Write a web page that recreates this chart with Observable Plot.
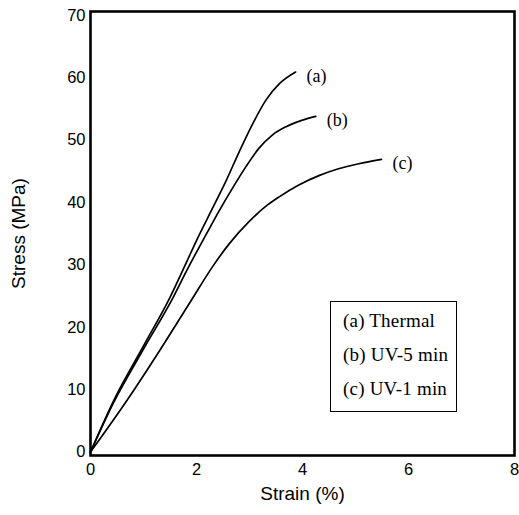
<!DOCTYPE html>
<html>
<head>
<meta charset="utf-8">
<script src="https://cdn.jsdelivr.net/npm/d3@7"></script>
<script src="https://cdn.jsdelivr.net/npm/@observablehq/plot@0.6"></script>
<style>
  html, body { margin: 0; padding: 0; background: #fff; }
  #wrap { position: relative; width: 519px; height: 515px; }
  svg [aria-label="x-axis label"] text, svg [aria-label="y-axis label"] text { font-size: 19px; }
  #legend {
    position: absolute; left: 330px; top: 301px; width: 125px; height: 109px;
    border: 1.5px solid #000; background: #fff;
    font-family: "Liberation Serif", "Times New Roman", serif; font-size: 19px; color: #000;
  }
  #legend div { position: absolute; left: 12px; white-space: nowrap; line-height: 20px; letter-spacing: 0.2px; }
</style>
</head>
<body>
<div id="wrap"></div>
<script>
// Strain (%) and stress (MPa)
const seriesNames = ["(a)", "(b)", "(c)"];
const legendLabels = ["(a) Thermal", "(b) UV-5 min", "(c) UV-1 min"];

const strainA = [0, 0.44, 1.00, 1.50, 1.81, 2.00, 2.31, 2.56, 2.81, 3.06, 3.31, 3.56, 3.87];
const stressA = [0, 8.3, 17.0, 24.8, 30.4, 33.9, 39.2, 43.5, 48.2, 52.6, 56.4, 59.0, 60.9];

const strainB = [0, 0.44, 1.00, 1.56, 1.81, 2.19, 2.43, 2.68, 2.93, 3.18, 3.43, 3.68, 4.00, 4.25];
const stressB = [0, 8.0, 16.5, 24.8, 29.0, 35.0, 38.7, 42.3, 45.7, 48.7, 50.8, 52.1, 53.2, 53.8];

const strainC = [0, 0.69, 1.30, 1.90, 2.31, 2.62, 3.00, 3.34, 3.56, 3.93, 4.31, 4.68, 5.06, 5.49];
const stressC = [0, 8.3, 16.2, 24.3, 29.8, 33.4, 37.0, 39.6, 40.9, 42.8, 44.3, 45.4, 46.2, 46.9];

const xTicks = [0, 2, 4, 6, 8];
const yTicks = [0, 10, 20, 30, 40, 50, 60, 70];

const build = (name, xs, ys) => xs.map((x, i) => ({series: name, strain: x, stress: ys[i]}));
const curves = [
  build(seriesNames[0], strainA, stressA),
  build(seriesNames[1], strainB, stressB),
  build(seriesNames[2], strainC, stressC)
];
const all = curves.flat();
const ends = curves.map(c => c[c.length - 1]);

const chart = Plot.plot({
  width: 519,
  height: 515,
  marginLeft: 90,
  marginRight: 5,
  marginTop: 11,
  marginBottom: 60,
  style: {fontFamily: "'Liberation Sans', Arial, sans-serif", fontSize: "16.5px", color: "#000", background: "#fff"},
  x: {domain: [0, 8]},
  y: {domain: [-0.55, 70.6]},
  marks: [
    Plot.axisX({ticks: xTicks, tickSize: 0, tickPadding: 8, label: "Strain (%)", labelAnchor: "center", labelArrow: "none", labelOffset: 44, tickFormat: d => String(d)}),
    Plot.axisY({ticks: yTicks, tickSize: 0, tickPadding: 5, label: "Stress (MPa)", labelAnchor: "center", labelArrow: "none", labelOffset: 79, tickFormat: d => String(d)}),
    Plot.line(all, {x: "strain", y: "stress", z: "series", stroke: "#000", strokeWidth: 1.7, curve: "monotone-x"}),
    Plot.text(ends, {x: "strain", y: "stress", text: "series", textAnchor: "start", dx: 11, dy: 4,
      fontFamily: "'Liberation Serif', 'Times New Roman', serif", fontSize: 18, fill: "#000"}),
    Plot.frame({stroke: "#000", strokeWidth: 2.6})
  ]
});

const wrap = document.getElementById("wrap");
wrap.appendChild(chart);

const legend = document.createElement("div");
legend.id = "legend";
legendLabels.forEach((t, i) => {
  const d = document.createElement("div");
  d.textContent = t;
  d.style.top = (9 + i * 34) + "px";
  legend.appendChild(d);
});
wrap.appendChild(legend);
</script>
</body>
</html>
